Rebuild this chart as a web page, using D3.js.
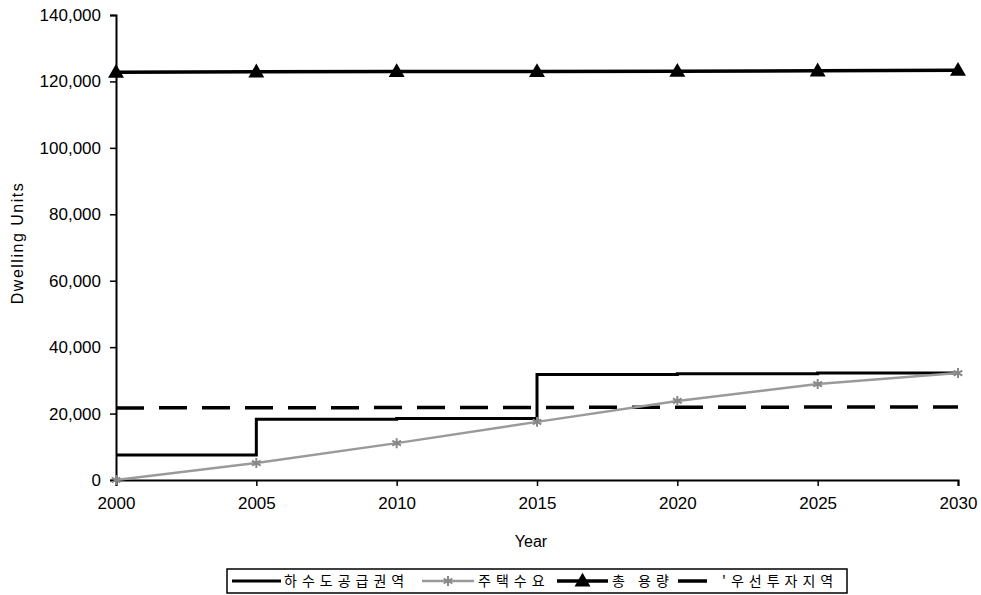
<!DOCTYPE html>
<html>
<head>
<meta charset="utf-8">
<script src="https://cdn.jsdelivr.net/npm/d3@7"></script>
<style>
  body { margin: 0; background: #fff; }
  svg { display: block; }
  .tick text { font-family: "Liberation Sans", Arial, sans-serif; font-size: 17px; fill: #000; }
</style>
</head>
<body>
<svg id="chart" width="981" height="595"></svg>
<script>
"use strict";
// data
var years = [2000, 2005, 2010, 2015, 2020, 2025, 2030];
var seweredArea = [7500, 18300, 18500, 31800, 32000, 32200, 32600];   // step line
var housingDemand = [0, 5100, 11100, 17500, 23800, 28900, 32200];
var totalCapacity = [122800, 122900, 123000, 123000, 123100, 123200, 123400];
var priorityArea = [21700, 21750, 21800, 21850, 21900, 21950, 22000];
var yTicks = [0, 20000, 40000, 60000, 80000, 100000, 120000, 140000];
var seriesNames = ["하수도공급권역", "주택수요", "총 용량", "'우선투자지역"];

var svg = d3.select("#chart");
var x = d3.scaleLinear().domain([2000, 2030]).range([116, 958]);
var y = d3.scaleLinear().domain([0, 140000]).range([480, 15]);

// axes
var yAxis = svg.append("g")
    .attr("transform", "translate(116,0)")
    .call(d3.axisLeft(y).tickValues(yTicks).tickSize(6).tickPadding(9).tickFormat(d3.format(",")));
var xAxis = svg.append("g")
    .attr("transform", "translate(0,480)")
    .call(d3.axisBottom(x).tickValues(years).tickSize(6).tickPadding(11).tickFormat(d3.format("d")));
[xAxis, yAxis].forEach(function (a) {
    a.select(".domain").attr("stroke", "#000").attr("stroke-width", 2);
    a.selectAll(".tick line").attr("stroke", "#000").attr("stroke-width", 1.5);
});

// axis titles
svg.append("text")
    .attr("transform", "translate(23,243) rotate(-90)")
    .attr("text-anchor", "middle")
    .style("font-family", "Liberation Sans, Arial, sans-serif")
    .style("font-size", "16px")
    .style("letter-spacing", "1.5px")
    .text("Dwelling Units");
svg.append("text")
    .attr("x", 531).attr("y", 547)
    .attr("text-anchor", "middle")
    .style("font-family", "Liberation Sans, Arial, sans-serif")
    .style("font-size", "16px")
    .text("Year");

function pts(vals) { return years.map(function (yr, i) { return [yr, vals[i]]; }); }
var line = d3.line().x(function (d) { return x(d[0]); }).y(function (d) { return y(d[1]); });
var stepLine = d3.line().curve(d3.curveStepAfter).x(function (d) { return x(d[0]); }).y(function (d) { return y(d[1]); });

// priority investment area (dashed)
svg.append("path")
    .attr("d", line(pts(priorityArea)))
    .attr("fill", "none").attr("stroke", "#000").attr("stroke-width", 3.5)
    .attr("stroke-dasharray", "28,15");

// sewered area (step)
svg.append("path")
    .attr("d", stepLine(pts(seweredArea)))
    .attr("fill", "none").attr("stroke", "#000").attr("stroke-width", 3);

// housing demand (gray with markers)
svg.append("path")
    .attr("d", line(pts(housingDemand)))
    .attr("fill", "none").attr("stroke", "#9a9a9a").attr("stroke-width", 2.5);
var star = d3.symbol().type(d3.symbolAsterisk).size(70);
svg.selectAll(".demand").data(pts(housingDemand)).enter().append("path")
    .attr("class", "demand")
    .attr("transform", function (d) { return "translate(" + x(d[0]) + "," + y(d[1]) + ")"; })
    .attr("d", star)
    .attr("fill", "none").attr("stroke", "#888").attr("stroke-width", 2);

// total capacity (triangles)
svg.append("path")
    .attr("d", line(pts(totalCapacity)))
    .attr("fill", "none").attr("stroke", "#000").attr("stroke-width", 3.5);
var tri = d3.symbol().type(d3.symbolTriangle).size(110);
svg.selectAll(".cap").data(pts(totalCapacity)).enter().append("path")
    .attr("class", "cap")
    .attr("transform", function (d) { return "translate(" + x(d[0]) + "," + (y(d[1]) + 1) + ")"; })
    .attr("d", tri)
    .attr("fill", "#000");

// legend
var lg = svg.append("g");
lg.append("rect")
    .attr("x", 227).attr("y", 569).attr("width", 620).attr("height", 24)
    .attr("fill", "#fff").attr("stroke", "#000").attr("stroke-width", 1.5);
var legendItems = [
    { x1: 232, x2: 281, tx: 284, kind: "step" },
    { x1: 422, x2: 474, tx: 478, kind: "demand" },
    { x1: 557, x2: 608, tx: 612, kind: "cap" },
    { x1: 678, x2: 707, tx: 722, kind: "dash" }
];
var ly = 581;
legendItems.forEach(function (it, i) {
    var g = lg.append("g");
    var col = it.kind === "demand" ? "#9a9a9a" : "#000";
    var sw = it.kind === "demand" ? 2.5 : (it.kind === "step" ? 3 : 3.5);
    g.append("line")
        .attr("x1", it.x1).attr("x2", it.x2).attr("y1", ly).attr("y2", ly)
        .attr("stroke", col).attr("stroke-width", sw);
    if (it.kind === "demand") {
        g.append("path").attr("transform", "translate(" + (it.x1 + it.x2) / 2 + "," + ly + ")")
            .attr("d", star).attr("fill", "none").attr("stroke", "#888").attr("stroke-width", 2);
    }
    if (it.kind === "cap") {
        g.append("path").attr("transform", "translate(" + (it.x1 + it.x2) / 2 + "," + (ly + 1) + ")")
            .attr("d", tri).attr("fill", "#000");
    }
    g.append("text")
        .attr("x", it.tx).attr("y", ly + 5)
        .style("font-family", "Noto Sans CJK KR, sans-serif")
        .style("font-size", "14px")
        .style("letter-spacing", "5px")
        .text(seriesNames[i]);
});
</script>
</body>
</html>
